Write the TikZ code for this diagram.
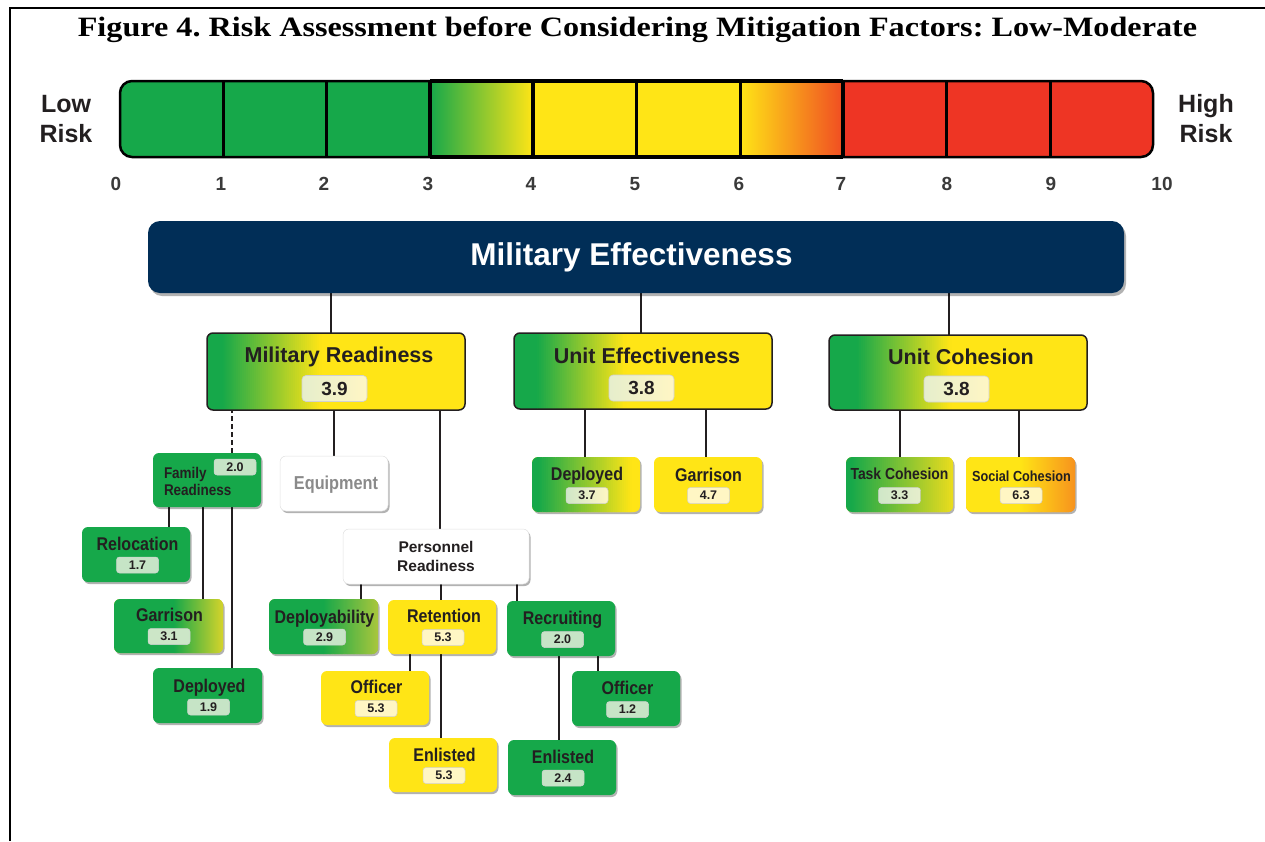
\documentclass[tikz,border=0pt]{standalone}
\usepackage{graphicx}
\usepackage{fontspec}
\setmainfont{Liberation Serif}
\setsansfont{Liberation Sans}
\newfontfamily\condfont[FakeStretch=0.87]{Liberation Sans}
\usetikzlibrary{calc,shadows}
\definecolor{mgreen}{HTML}{16A84A}
\definecolor{myellow}{HTML}{FFE516}
\definecolor{mred}{HTML}{EE3524}
\definecolor{morange}{HTML}{F7941D}
\definecolor{mnavy}{HTML}{012E57}
\definecolor{txt}{HTML}{231F20}
\definecolor{numgray}{HTML}{3A3A3A}
\definecolor{pgreen}{HTML}{C6E4C6}
\definecolor{pyellow}{HTML}{FFF6C4}
\definecolor{pmix}{HTML}{E6EECC}
\definecolor{ygreen}{HTML}{D3D32B}
\definecolor{lgreen}{HTML}{A8C63C}
\definecolor{tcy}{HTML}{EADC1E}
\definecolor{eqgray}{HTML}{8A8A8A}
\pgfdeclarelayer{bg}
\pgfsetlayers{bg,main}
\tikzset{
  gfill/.style n args={4}{fill=#4, path picture={
    \fill[#3] ($(path picture bounding box.north west)+(-5,-5)$) rectangle ($(path picture bounding box.south west)!#1!(path picture bounding box.south east)+(0.5,5)$);
    \foreach \i in {0,...,49} {
      \pgfmathsetmacro\pa{#1+(#2-#1)*\i/50}
      \pgfmathsetmacro\pb{#1+(#2-#1)*(\i+1)/50+0.005}
      \pgfmathtruncatemacro\pc{100-2*\i-1}
      \fill[#3!\pc!#4] ($(path picture bounding box.north west)!\pa!(path picture bounding box.north east)+(0,-5)$) rectangle ($(path picture bounding box.south west)!\pb!(path picture bounding box.south east)+(0,5)$);
    }
  }},
  lone/.style={draw=txt, line width=1.5pt, rounded corners=6pt},
  ltwo/.style={rounded corners=6pt, drop shadow={shadow xshift=1.5pt, shadow yshift=-2pt, opacity=0.3, fill=black}},
  mebox/.style={fill=mnavy, rounded corners=12pt, drop shadow={shadow xshift=2pt, shadow yshift=-3pt, opacity=0.3, fill=black}},
  vone/.style={rounded corners=4pt, draw=black!18, line width=0.6pt, minimum width=65pt, minimum height=26pt, font=\sffamily\bfseries\fontsize{19}{20}\selectfont, text=txt},
  vtwo/.style={rounded corners=3pt, draw=black!18, line width=0.5pt, minimum width=42pt, minimum height=16pt, font=\sffamily\bfseries\fontsize{12.5}{13}\selectfont, text=txt},
  lbone/.style={font=\sffamily\bfseries\fontsize{21.5}{24}\selectfont, text=txt, text height=15.4pt, text depth=0pt},
  lbtwo/.style={font=\condfont\bfseries\fontsize{18.4}{20}\selectfont, text=txt, text height=13.2pt, text depth=0pt},
  conn/.style={draw=txt, line width=1.6pt},
  numl/.style={font=\sffamily\bfseries\fontsize{19}{20}\selectfont, text=numgray, text height=13.6pt, text depth=0pt},
  riskl/.style={font=\sffamily\bfseries\fontsize{25}{30}\selectfont, text=txt, text height=17.9pt, text depth=0pt, align=center},
}
\newcommand{\bx}[5]{\node[#1, minimum width=#4pt, minimum height=#5pt] (#2) at (#3) {};}
\newcommand{\vconn}[4][]{\draw[conn,#1] ($(#3.north)+(#4,0)$) -- ($(#3.north |- #2.south)+(#4,0)$);}
\begin{document}
\begin{tikzpicture}[x=1pt,y=-1pt,every node/.style={inner sep=0pt,outer sep=0pt}]
\useasboundingbox (0,0) rectangle (1265,841);
% frame
\draw[line width=2pt] (10,841) -- (10,8) -- (1265,8);
% title
\node[font=\rmfamily\bfseries\fontsize{28}{30}\selectfont, text height=18.5pt, text depth=0pt] (title) at (637.5,27.5) {\frenchspacing\scalebox{1.15}[1]{Figure 4. Risk Assessment before Considering Mitigation Factors: Low-Moderate}};
% risk bar
\begin{scope}
\clip[rounded corners=12pt] (120,81) rectangle (1153,157);
\fill[mgreen] (120,81) rectangle (430,157);
\shade[left color=mgreen, right color=myellow] (430,81) rectangle (533,157);
\fill[myellow] (533,81) rectangle (740,157);
\shade[left color=myellow, middle color=morange, right color=mred!75!morange] (740,81) rectangle (843,157);
\fill[mred] (843,81) rectangle (1153,157);
\end{scope}
\foreach \x in {223,326.5,636.5,740,946.5,1050} \draw[line width=3pt] (\x,81) -- (\x,157);
\foreach \x in {430,533,843} \draw[line width=4pt] (\x,81) -- (\x,157);
\draw[line width=2.5pt, rounded corners=12pt] (120,81) rectangle (1153,157);
\draw[line width=4pt] (430,81) -- (843,81);
\draw[line width=4pt] (430,157) -- (843,157);
\node[riskl] (low) at (66,134) {Low\\Risk};
\node[riskl] (high) at (1206,134) {High\\Risk};
\foreach \n/\x in {0/116,1/221,2/324,3/428,4/531,5/635,6/739,7/841,8/947,9/1051,10/1162}
  \node[numl] (num\n) at (\x,183.5) {\n};
% top box
\bx{mebox}{ME}{636,257}{976}{72}
\node[font=\sffamily\bfseries\fontsize{31.5}{34}\selectfont, text=white, text height=22.5pt, text depth=0pt] (MEl) at (631.5,254.5) {Military Effectiveness};
% level one
\bx{lone,gfill={0.06}{0.44}{mgreen}{myellow}}{MR}{336,371.5}{258}{77}
\bx{lone,gfill={0.09}{0.43}{mgreen}{myellow}}{UE}{643,371}{258}{76}
\bx{lone,gfill={0.11}{0.47}{mgreen}{myellow}}{UC}{958,372.5}{258}{75}
\node[lbone] (MRl) at (339,355) {Military Readiness};
\node[lbone] (UEl) at (647,355.5) {Unit Effectiveness};
\node[lbone] (UCl) at (961,356.5) {Unit Cohesion};
\node[vone, left color=pmix, right color=pyellow] (MRv) at (334.5,388.5) {3.9};
\node[vone, left color=pmix, right color=pyellow] (UEv) at (641.5,388) {3.8};
\node[vone, left color=pmix, right color=pyellow] (UCv) at (956.5,389) {3.8};
% level two boxes
\bx{ltwo,fill=mgreen}{FR}{207,480}{108}{54}
\bx{ltwo,fill=white,draw=black!12,line width=0.5pt}{EQ}{334,483.5}{108}{55}
\bx{ltwo,fill=mgreen}{REL}{136,554.5}{108}{55}
\bx{ltwo,gfill={0.55}{1}{mgreen}{ygreen}}{GARF}{168.5,626}{109}{54}
\bx{ltwo,fill=mgreen}{DEPF}{207.5,695.5}{109}{55}
\bx{ltwo,fill=white,draw=black!12,line width=0.5pt}{PR}{436,556.5}{186}{55}
\bx{ltwo,gfill={0.5}{1}{mgreen}{lgreen}}{DEPL}{323.5,626.5}{109}{55}
\bx{ltwo,fill=myellow}{RET}{442,627}{108}{54}
\bx{ltwo,fill=mgreen}{RECR}{561,628.5}{108}{55}
\bx{ltwo,fill=myellow}{OFFA}{375,698}{108}{54}
\bx{ltwo,fill=myellow}{ENLA}{443,765}{108}{54}
\bx{ltwo,fill=mgreen}{OFFB}{626,698.5}{108}{55}
\bx{ltwo,fill=mgreen}{ENLB}{562,767.5}{108}{55}
\bx{ltwo,gfill={0.06}{0.92}{mgreen}{myellow}}{DEPU}{586,484.5}{108}{55}
\bx{ltwo,fill=myellow}{GARU}{708,484.5}{108}{55}
\bx{ltwo,gfill={0.05}{1}{mgreen}{tcy}}{TC}{899.5,484.5}{107}{55}
\bx{ltwo,gfill={0.5}{1}{myellow}{morange}}{SC}{1020.5,484.5}{109}{55}
% level two labels
\node[font=\condfont\bfseries\fontsize{15.5}{17}\selectfont, text=txt, text height=11.1pt, text depth=0pt, align=left, anchor=west] (FRl) at (164,489.5) {Family\\Readiness};
\node[font=\condfont\bfseries\fontsize{18.7}{20}\selectfont, text=eqgray, text height=13.4pt, text depth=0pt] (EQl) at (336,483) {Equipment};
\node[font=\sffamily\bfseries\fontsize{15.5}{19}\selectfont, text=txt, text height=11.1pt, text depth=0pt, align=center] (PRl) at (436,566.1) {Personnel\\Readiness};
\node[lbtwo] (RELl) at (137.5,543.5) {Relocation};
\node[lbtwo] (GARFl) at (169.5,615) {Garrison};
\node[lbtwo] (DEPFl) at (209.5,685.5) {Deployed};
\node[lbtwo] (DEPLl) at (324.5,616.5) {Deployability};
\node[lbtwo] (RETl) at (444,616) {Retention};
\node[lbtwo] (RECRl) at (562.5,618) {Recruiting};
\node[lbtwo] (OFFAl) at (376.5,687) {Officer};
\node[lbtwo] (ENLAl) at (444.5,754.5) {Enlisted};
\node[lbtwo] (OFFBl) at (627.5,687.5) {Officer};
\node[lbtwo] (ENLBl) at (563,756.5) {Enlisted};
\node[lbtwo] (DEPUl) at (587,473.5) {Deployed};
\node[lbtwo] (GARUl) at (708.5,474.5) {Garrison};
\node[lbtwo, font=\condfont\bfseries\fontsize{16}{18}\selectfont, text height=11.5pt] (TCl) at (899.5,473.5) {Task Cohesion};
\node[lbtwo, font=\condfont\bfseries\fontsize{14.6}{16}\selectfont, text height=10.5pt] (SCl) at (1021.5,476) {Social Cohesion};
% level two values
\node[vtwo, fill=pgreen] (FRv) at (235,467) {2.0};
\node[vtwo, fill=pgreen] (RELv) at (137.5,565) {1.7};
\node[vtwo, fill=pgreen!80!pmix] (GARFv) at (169,636.5) {3.1};
\node[vtwo, fill=pgreen] (DEPFv) at (208.5,707) {1.9};
\node[vtwo, fill=pgreen] (DEPLv) at (324.5,637) {2.9};
\node[vtwo, fill=pyellow] (RETv) at (443,637.5) {5.3};
\node[vtwo, fill=pgreen] (RECRv) at (562.5,639.5) {2.0};
\node[vtwo, fill=pyellow] (OFFAv) at (376,708.5) {5.3};
\node[vtwo, fill=pyellow] (ENLAv) at (444,775.5) {5.3};
\node[vtwo, fill=pgreen] (OFFBv) at (627.5,709.5) {1.2};
\node[vtwo, fill=pgreen] (ENLBv) at (563,778) {2.4};
\node[vtwo, left color=pgreen!70!pmix, right color=pyellow] (DEPUv) at (587,495.5) {3.7};
\node[vtwo, fill=pyellow] (GARUv) at (708.5,495.5) {4.7};
\node[vtwo, left color=pgreen!70!pmix, right color=pmix] (TCv) at (899.5,495.5) {3.3};
\node[vtwo, fill=pyellow] (SCv) at (1021,495.5) {6.3};
% connectors
\begin{pgfonlayer}{bg}
\vconn{ME}{MR}{-5}
\vconn{ME}{UE}{-2}
\vconn{ME}{UC}{-9}
\vconn[dash pattern=on 5pt off 3pt]{MR}{FR}{25}
\vconn{MR}{EQ}{0}
\vconn{MR}{PR}{4}
\vconn{FR}{REL}{33}
\vconn{FR}{GARF}{34.5}
\vconn{FR}{DEPF}{24.5}
\vconn{PR}{DEPL}{37.5}
\vconn{PR}{RET}{-1}
\vconn{PR}{RECR}{-44}
\vconn{RET}{OFFA}{35}
\vconn{RET}{ENLA}{-2}
\vconn{RECR}{ENLB}{-3}
\vconn{RECR}{OFFB}{-28}
\vconn{UE}{DEPU}{-1}
\vconn{UE}{GARU}{-2}
\vconn{UC}{TC}{0.5}
\vconn{UC}{SC}{-1.5}
\end{pgfonlayer}
\end{tikzpicture}
\end{document}
